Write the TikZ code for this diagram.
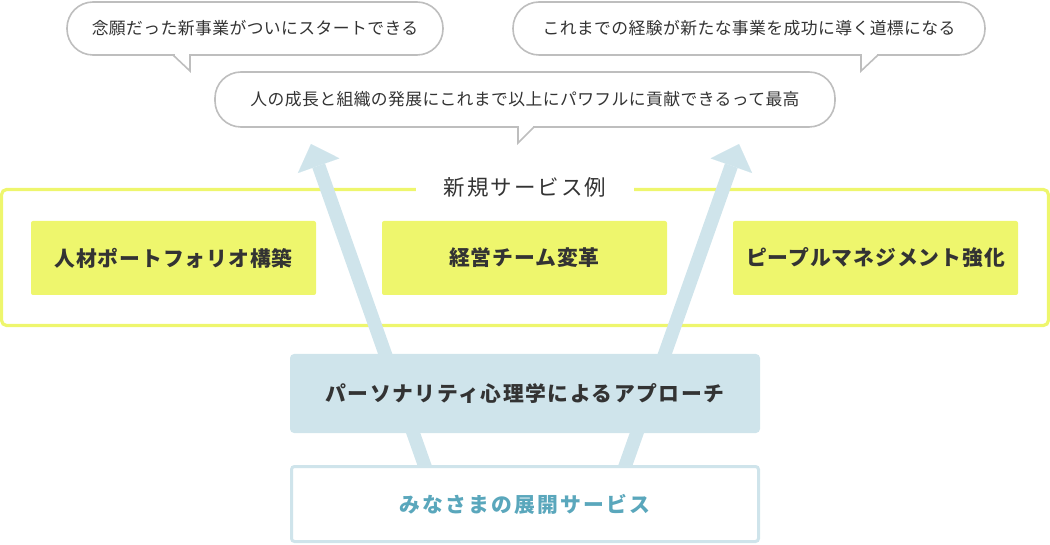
\documentclass[tikz,border=0pt]{standalone}
\usepackage{fontspec}
\usetikzlibrary{arrows.meta, positioning}
\newfontfamily\jpfont{Noto Sans CJK JP}
\definecolor{textdark}{HTML}{333333}
\definecolor{bubblegray}{HTML}{BEBEBE}
\definecolor{svcyellow}{HTML}{EEF66D}
\definecolor{flowblue}{HTML}{CFE4EB}
\definecolor{tealtext}{HTML}{5AA7BC}
\newcommand{\bubblefont}{\fontsize{16.8}{20}\selectfont\jpfont\addfontfeatures{LetterSpace=2.5}}
\newcommand{\titlefont}{\fontsize{21.5}{24}\selectfont\jpfont\addfontfeatures{LetterSpace=9}}
\newcommand{\svcfont}{\fontsize{20.8}{24}\selectfont\jpfont\bfseries\addfontfeatures{LetterSpace=4.5}}
\newcommand{\approachfont}{\fontsize{20.8}{24}\selectfont\jpfont\bfseries\addfontfeatures{LetterSpace=7.5}}
\newcommand{\basefont}{\fontsize{20.8}{24}\selectfont\jpfont\bfseries\addfontfeatures{LetterSpace=10.5}}

\begin{document}
\begin{tikzpicture}[x=1pt, y=-1pt,
    bubble/.style={draw=bubblegray, line width=1.6pt, fill=white, rounded corners=26pt,
        minimum height=53pt, inner sep=0pt, text=textdark, font=\bubblefont},
    bubbleline/.style={draw=bubblegray, line width=1.6pt},
    frameline/.style={draw=svcyellow, line width=3.2pt, rounded corners=5pt},
    frametitle/.style={fill=white, minimum width=218pt, inner sep=2pt, text=textdark, font=\titlefont},
    svcbox/.style={fill=svcyellow, rounded corners=2pt, minimum width=285pt, minimum height=74pt,
        text=textdark, font=\svcfont},
    flow/.style={draw=flowblue, line width=13.5pt,
        -{Triangle[width=44pt, length=23pt, line width=0.01pt]}},
    approach/.style={fill=flowblue, rounded corners=4pt, minimum width=470pt, minimum height=79pt,
        text=textdark, font=\approachfont},
    basebox/.style={draw=flowblue, line width=3pt, fill=white, rounded corners=3pt,
        minimum width=467pt, minimum height=75pt, text=tealtext, font=\basefont}
]
\useasboundingbox (0,0) rectangle (1050,545);

% voices
\node[bubble, minimum width=376pt] (voice1) at (255,28.5) {念願だった新事業がついにスタートできる};
\fill[white] (174.5,52) rectangle (189.2,58);
\draw[bubbleline] (173,55) -- (190,71) -- (190,55);

\node[bubble, minimum width=472pt] (voice2) at (749,28.5) {これまでの経験が新たな事業を成功に導く道標になる};
\fill[white] (861.8,52) rectangle (876.5,58);
\draw[bubbleline] (878,55) -- (861,71) -- (861,55);

\node[bubble, minimum width=620pt, minimum height=55pt] (voice3) at (525,99.5) {人の成長と組織の発展にこれまで以上にパワフルに貢献できるって最高};
\fill[white] (518.8,125) rectangle (532.5,130);
\draw[bubbleline] (534,127) -- (518,143) -- (518,127);

% new services
\draw[frameline] (1.6,189.5) rectangle (1048.4,325.5);
\node[frametitle] (title) at (525,187) {新規サービス例};
\node[svcbox] (svc1) at (173.5,258) {人材ポートフォリオ構築};
\node[svcbox] (svc2) at (524.5,258) {経営チーム変革};
\node[svcbox] (svc3) at (875.5,258) {ピープルマネジメント強化};

% arrows
\coordinate (srcL) at (428,475);
\coordinate (tipL) at (311,144);
\coordinate (srcR) at (622,475);
\coordinate (tipR) at (739,144);
\draw[flow] (srcL) -- (tipL);
\draw[flow] (srcR) -- (tipR);

% approach and base
\node[approach] (approach) at (525,393.5) {パーソナリティ心理学によるアプローチ};
\node[basebox] (base) at (525,504) {みなさまの展開サービス};
\end{tikzpicture}
\end{document}
